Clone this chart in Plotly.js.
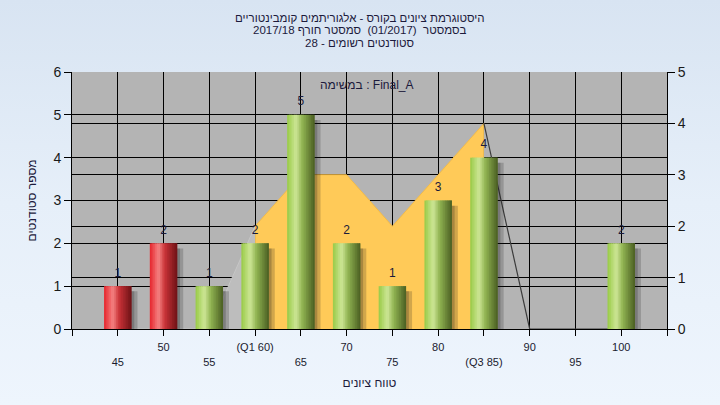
<!DOCTYPE html>
<html>
<head>
<meta charset="utf-8">
<script src="https://cdn.plot.ly/plotly-3.0.1.min.js"></script>
<style>
  html, body { margin: 0; padding: 0; }
  body { width: 720px; height: 405px; background: linear-gradient(180deg, #d8e4f2 0%, #e6eff9 50%, #eef5fd 100%); }
  #chart { width: 720px; height: 405px; }
</style>
</head>
<body>
<div id="chart"></div>
<script>
// ---- data ----
const scores = [45, 50, 55, 60, 65, 70, 75, 80, 85, 90, 95, 100];
const counts = [1, 2, 1, 2, 5, 2, 1, 3, 4, 0, 0, 2];
const curve  = [0, 0, 0, 2, 3, 3, 2, 3, 4, 0, 0, 0];
const tickVals = [40, 45, 50, 55, 60, 65, 70, 75, 80, 85, 90, 95, 100, 105];
const tickText = ['', '<br>45', '50', '<br>55', '(Q1 60)', '<br>65', '70', '<br>75', '80', '<br>(Q3 85)', '90', '<br>95', '100', ''];
const q1 = 60, q3 = 85, passMark = 55;
const titleLines = [
  'היסטוגרמת ציונים בקורס - אלגוריתמים קומבינטוריים',
  '\u202Bבסמסטר  (01/2017)  סמסטר חורף 2017/18\u202C',
  '\u202Bסטודנטים רשומים - 28\u202C'
];
const taskLabel = 'במשימה : Final_A';
const xTitle = 'טווח ציונים';
const yTitle = 'מספר סטודנטים';

// ---- styling helpers ----
const greenStops = [[0, [152, 202, 70]], [0.32, [205, 230, 150]], [0.55, [145, 180, 82]], [1, [74, 94, 34]]];
const redStops   = [[0, [230, 36, 44]], [0.32, [245, 130, 130]], [0.55, [200, 50, 55]], [1, [110, 18, 22]]];
function interp(stops, t) {
  for (let k = 0; k < stops.length - 1; k++) {
    const [t0, c0] = stops[k], [t1, c1] = stops[k + 1];
    if (t >= t0 && t <= t1) {
      const f = (t - t0) / (t1 - t0);
      return 'rgb(' + c0.map((v, j) => Math.round(v + (c1[j] - v) * f)).join(',') + ')';
    }
  }
  const c = stops[stops.length - 1][1];
  return 'rgb(' + c.join(',') + ')';
}

const traces = [];
// area (y2) - lower tail (light gray), core Q1..Q3 (yellow), upper tail line (dark)
const lowX = [], lowY = [], midX = [], midY = [], hiX = [], hiY = [];
scores.forEach((s, i) => {
  if (s <= q1) { lowX.push(s); lowY.push(curve[i]); }
  if (s >= q1 && s <= q3) { midX.push(s); midY.push(curve[i]); }
  if (s >= q3) { hiX.push(s); hiY.push(curve[i]); }
});
traces.push({type: 'scatter', x: lowX, y: lowY, yaxis: 'y2', mode: 'lines', fill: 'tozeroy',
  fillcolor: '#bdbdbd', line: {color: '#c6c6c6', width: 1}, hoverinfo: 'skip'});
traces.push({type: 'scatter', x: midX, y: midY, yaxis: 'y2', mode: 'lines', fill: 'tozeroy',
  fillcolor: '#ffca58', line: {color: '#f2bb4a', width: 1}, hoverinfo: 'skip'});
traces.push({type: 'scatter', x: hiX, y: hiY, yaxis: 'y2', mode: 'lines',
  line: {color: '#3c3c3c', width: 1.2}, hoverinfo: 'skip'});

// bars (y) with shadow and cylinder shading
const W = 3.0, N = 16, w = W / N;
[[0.3, 0.22], [0.65, 0.2]].forEach(([shift, a]) => {
  traces.push({type: 'bar', x: scores, y: counts, base: -0.12, width: W, offset: -W / 2 + shift,
    marker: {color: 'rgba(25,25,25,' + a + ')', line: {width: 0}}, hoverinfo: 'skip'});
});
for (let i = 0; i < N; i++) {
  const t = (i + 0.5) / N;
  traces.push({type: 'bar', x: scores, y: counts, width: (i === N - 1) ? w : w * 1.9, offset: -W / 2 + i * w,
    marker: {color: scores.map(s => s < passMark ? interp(redStops, t) : interp(greenStops, t)), line: {width: 0}},
    hoverinfo: 'skip'});
}
// value labels
const lx = [], ly = [], lt = [];
scores.forEach((s, i) => { if (counts[i] > 0) { lx.push(s); ly.push(counts[i]); lt.push(String(counts[i])); } });
traces.push({type: 'scatter', x: lx, y: ly, mode: 'markers+text', text: lt, textposition: 'top center',
  marker: {size: 9, color: 'rgba(0,0,0,0)'},
  textfont: {family: 'Liberation Sans, Arial, sans-serif', size: 12, color: '#1a1a3a'}, hoverinfo: 'skip', cliponaxis: false});

const font = {family: 'Liberation Sans, Arial, sans-serif', size: 12, color: '#1a1a2e'};
const titleY = [1.212, 1.162, 1.113];
const annotations = titleLines.map((t, i) => ({
  text: t, xref: 'paper', yref: 'paper', x: 0.484, y: titleY[i], xanchor: 'center', yanchor: 'middle',
  showarrow: false, font: {family: font.family, size: 11.5, color: '#1c1a3c'}
}));
annotations.push({text: taskLabel, xref: 'paper', yref: 'paper', x: 0.496, y: 0.949,
  xanchor: 'center', yanchor: 'middle', showarrow: false, font: {family: font.family, size: 12, color: '#1c1a3c'}});

const layout = {
  width: 720, height: 405,
  margin: {l: 72, r: 53, t: 72, b: 76},
  paper_bgcolor: 'rgba(0,0,0,0)',
  plot_bgcolor: '#b4b4b4',
  showlegend: false,
  barmode: 'overlay',
  font: font,
  xaxis: {
    type: 'linear', range: [40, 105], tickmode: 'array', tickvals: tickVals, ticktext: tickText,
    showgrid: true, gridcolor: '#000', gridwidth: 1, zeroline: false,
    showline: true, linecolor: '#000', linewidth: 1,
    ticks: 'outside', ticklen: 6, tickcolor: '#000', ticklabelstandoff: 2,
    tickfont: {family: font.family, size: 11, color: '#1a1a2e'},
    title: {text: xTitle, font: {family: font.family, size: 12, color: '#1c1a3c'}, standoff: 12}
  },
  yaxis: {
    range: [0, 6], dtick: 1, overlaying: 'y2', side: 'left',
    showgrid: true, gridcolor: '#000', gridwidth: 1, zeroline: false,
    showline: true, linecolor: '#000', linewidth: 1,
    ticks: 'outside', ticklen: 7, tickcolor: '#000',
    tickfont: {family: font.family, size: 14, color: '#1a1a1a'},
    title: {text: yTitle, font: {family: font.family, size: 12, color: '#1c1a3c'}, standoff: 14}
  },
  yaxis2: {
    range: [0, 5], dtick: 1, side: 'right', anchor: 'x',
    showgrid: true, gridcolor: '#000', gridwidth: 1, zeroline: false,
    showline: true, linecolor: '#000', linewidth: 1,
    ticks: 'outside', ticklen: 7, tickcolor: '#000',
    tickfont: {family: font.family, size: 14, color: '#1a1a1a'}
  },
  annotations: annotations
};

Plotly.newPlot('chart', traces, layout, {displayModeBar: false, staticPlot: true});
</script>
</body>
</html>
